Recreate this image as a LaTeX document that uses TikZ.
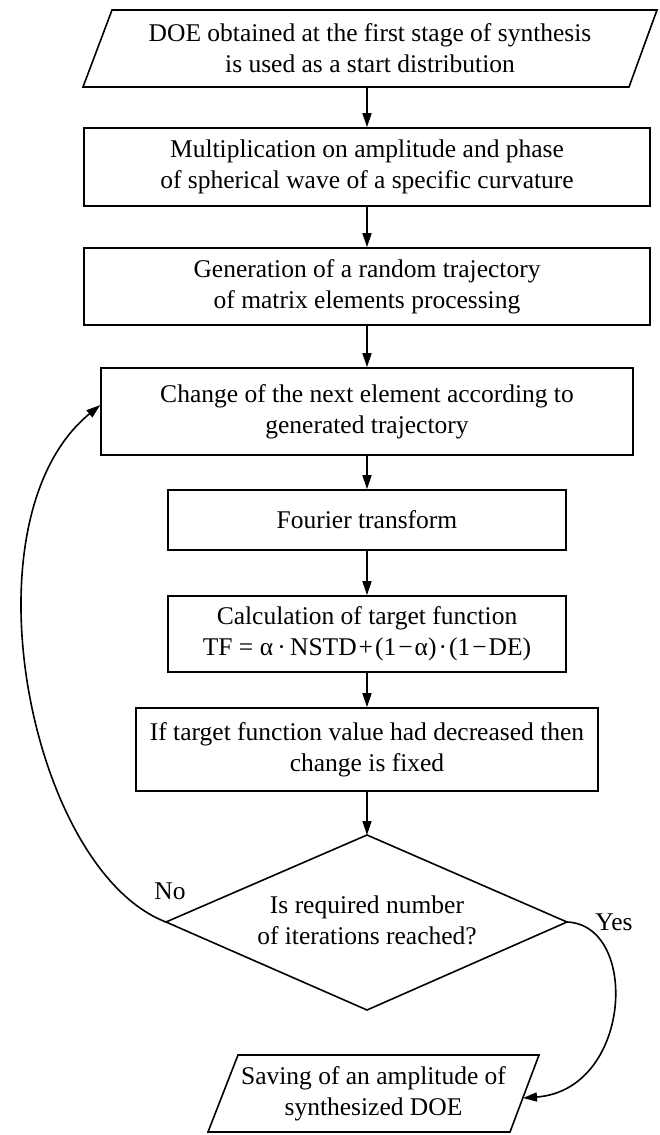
\documentclass[tikz,border=0pt]{standalone}
\usepackage{fontspec}
\setmainfont{Liberation Serif}
\usetikzlibrary{arrows.meta}
\newcommand\fsz{\fontsize{25.5}{31}\selectfont}
\begin{document}
\begin{tikzpicture}[x=1pt,y=-1pt,line width=1.6pt,
  box/.style={draw, rectangle, inner sep=0pt, align=center, font=\fsz},
  txt/.style={inner sep=0pt, align=center, font=\fsz},
  lbl/.style={inner sep=0pt, font=\fsz},
  arr/.style={-{Triangle[length=14pt,width=9pt]}}]
\useasboundingbox (0,0) rectangle (659,1135);
% start parallelogram
\draw (112,10) -- (657,10) -- (629,87) -- (83,87) -- cycle;
\node[txt] (p1) at (370,48.5) {DOE obtained at the first stage of synthesis\\is used as a start distribution};
\coordinate (p1b) at (367,87);
% boxes
\node[box, minimum width=566pt, minimum height=78pt] (b2) at (367,167)
  {Multiplication on amplitude and phase\\of spherical wave of a specific curvature};
\node[box, minimum width=566pt, minimum height=77pt] (b3) at (367,286.5)
  {Generation of a random trajectory\\of matrix elements processing};
\node[box, minimum width=532pt, minimum height=87pt] (b4) at (367,411.5)
  {Change of the next element according to\\generated trajectory};
\node[box, minimum width=398pt, minimum height=60pt] (b5) at (367,520)
  {Fourier transform};
\node[box, minimum width=398pt, minimum height=76pt] (b6) at (367,634)
  {Calculation of target function\\TF = α\,·\,NSTD\kern2pt+\kern2pt(1\kern2pt−\kern2ptα)\kern2pt·\kern2pt(1\kern2pt−\kern2ptDE)};
\node[box, minimum width=462pt, minimum height=83pt] (b7) at (367,749.5)
  {If target function value had decreased then\\change is fixed};
% decision
\coordinate (dt) at (367,835);
\coordinate (dl) at (166,922);
\coordinate (dr) at (567,922);
\coordinate (db) at (367,1010);
\draw (dt) -- (dr) -- (db) -- (dl) -- cycle;
\node[txt] (d) at (367,920) {Is required number\\of iterations reached?};
% end parallelogram
\draw (238,1055) -- (539,1055) -- (510,1132) -- (208,1132) -- cycle;
\node[txt] (p2) at (373.5,1093.5) {Saving of an amplitude of\\synthesized DOE};
\coordinate (p2in) at (523,1098);
% connectors
\draw[arr] (p1b) -- (b2.north);
\draw[arr] (b2.south) -- (b3.north);
\draw[arr] (b3.south) -- (b4.north);
\draw[arr] (b4.south) -- (b5.north);
\draw[arr] (b5.south) -- (b6.north);
\draw[arr] (b6.south) -- (b7.north);
\draw[arr] (b7.south) -- (dt);
\coordinate (b4in) at ([yshift=6.5pt]b4.west);
\draw[arr] (dl) .. controls (30,870) and (-40,520) .. (b4in);
\draw[arr] (dr) .. controls (640,925) and (632,1090) .. (p2in);
% labels
\node[lbl] (no) at (170,891) {No};
\node[lbl] (yes) at (614,922) {Yes};
\end{tikzpicture}
\end{document}
